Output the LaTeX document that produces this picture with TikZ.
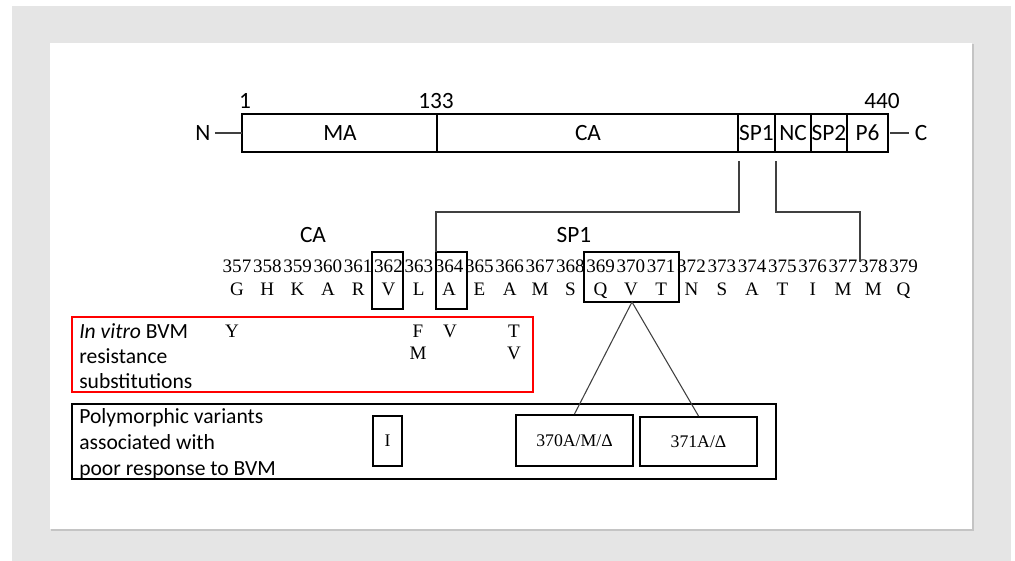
\documentclass[tikz,border=0pt]{standalone}
\usepackage{fontspec}
\setmainfont{Liberation Serif}
\newfontfamily\carl{Carlito}
\definecolor{bgray}{HTML}{E5E5E5}
\definecolor{shad}{HTML}{C4C4C4}
\begin{document}
\begin{tikzpicture}[x=0.75pt,y=-0.75pt,
  lab/.style={font=\carl\fontsize{17.5}{20}\selectfont, inner sep=0pt},
  txt/.style={font=\carl\fontsize{16.2}{19}\selectfont, inner sep=0pt, anchor=base west},
  num/.style={font=\fontsize{14.3}{16}\selectfont, inner sep=0pt, anchor=base},
  barline/.style={line width=1.5pt},
  thin/.style={line width=0.8pt, draw=black!75},
  hl/.style={line width=1.5pt},
  vbox/.style={draw, line width=1.5pt, inner sep=0pt, font=\fontsize{13.3}{15}\selectfont},
  redbox/.style={draw=red, line width=2pt},
  blkbox/.style={draw=black, line width=2.2pt}]
\useasboundingbox (0,0) rectangle (1015,561);
\fill[white] (0,0) rectangle (1015,561);
\fill[bgray] (12,6) rectangle (1011,561);
\fill[shad] (51,44) rectangle (974,531);
\fill[white] (50,43) rectangle (972,529);

% Gag bar
\draw[barline] (242,114) rectangle (888,152);
\foreach \xx in {437,738,775,811,847} \draw[barline] (\xx,114) -- (\xx,152);
\node[lab] (ma) at (340,133) {MA};
\node[lab] (ca) at (588,133) {CA};
\node[lab] (sp1) at (756.5,133) {SP1};
\node[lab] (nc) at (793,133) {NC};
\node[lab] (sp2) at (829,133) {SP2};
\node[lab] (p6) at (867.5,133) {P6};
\node[lab] (one) at (245,101) {1};
\node[lab] (p133) at (436,101) {133};
\node[lab] (p440) at (882,101) {440};
\node[lab] (nterm) at (203,133) {N};
\node[lab] (cterm) at (921,133) {C};
\coordinate (barW) at (242,133);
\coordinate (barE) at (888,133);
\draw[thin] (nterm.east) ++(4,0) -- (barW);
\draw[thin] (barE) ++(2,0) -- ([xshift=-4]cterm.west);

% region labels
\node[lab] (calab) at (313,235) {CA};
\node[lab] (sp1lab) at (574,235) {SP1};

% sequence
\foreach \i in {0,...,22} {
  \pgfmathtruncatemacro\nn{357+\i}
  \node[num] (n\nn) at ({237+30.3*\i},272.5) {\nn};
}
\foreach \L [count=\i from 0] in {G,H,K,A,R,V,L,A,E,A,M,S,Q,V,T,N,S,A,T,I,M,M,Q} {
  \pgfmathtruncatemacro\nn{357+\i}
  \node[num] (l\nn) at ({237+30.3*\i},295.5) {\L};
}

% highlight boxes
\draw[hl] (372,252) rectangle (403,309);
\draw[hl] (436,252) rectangle (467,309);
\draw[hl] (584,252) rectangle (679,302);
\coordinate (b364nw) at (436,252);
\coordinate (qvts) at (632,302);

% connectors from bar
\coordinate (sp1bot) at (739,161);
\coordinate (ncbot) at (776,161);
\coordinate (to377) at (860,262);
\draw[thin] (sp1bot) |- (b364nw |- 0,212) -- (b364nw);
\draw[thin] (ncbot) |- (to377 |- 0,212) -- (to377);

% in vitro box
\draw[redbox] (72,317) rectangle (533,392);
\node[txt] (iv1) at (79,338) {\itshape In vitro\upshape{} BVM};
\node[txt] (iv2) at (79,363) {resistance};
\node[txt] (iv3) at (79,388) {substitutions};
\node[num] (sY) at (232,337) {Y};
\node[num] (sF) at (418,337) {F};
\node[num] (sM) at (418,359) {M};
\node[num] (sV) at (450,337) {V};
\node[num] (sT) at (514,337) {T};
\node[num] (sV2) at (514,359) {V};

% polymorphic box
\draw[blkbox] (72,404) rectangle (776,479);
\node[txt] (pv1) at (79,423) {Polymorphic variants};
\node[txt] (pv2) at (79,449) {associated with};
\node[txt] (pv3) at (79,475) {poor response to BVM};
\node[vbox, minimum width=21.75pt, minimum height=37.5pt] (vI) at (387.5,441) {I};
\node[vbox, minimum width=87.75pt, minimum height=38.25pt] (v370) at (574.5,440.5) {370A/M/Δ};
\node[vbox, minimum width=87.75pt, minimum height=36.75pt] (v371) at (698.5,441.5) {371A/Δ};
\draw[thin] (v370.north) -- (qvts) -- (v371.north);
\end{tikzpicture}
\end{document}
